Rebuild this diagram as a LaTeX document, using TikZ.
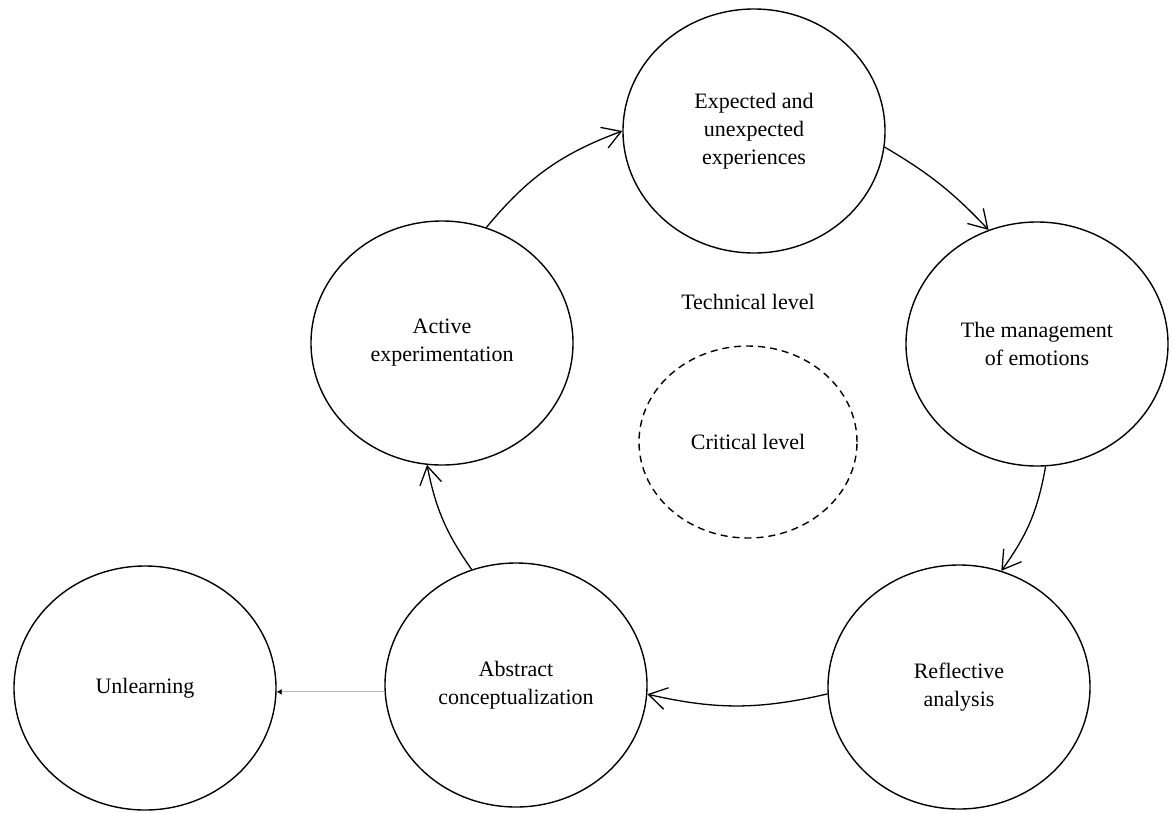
\documentclass[tikz,border=0pt]{standalone}
\usepackage{fontspec}
\setmainfont{Liberation Serif}
\usetikzlibrary{shapes.geometric,arrows.meta}
\begin{document}
\begin{tikzpicture}[x=1pt,y=1pt,
  bub/.style={draw,ellipse,line width=1.4pt,minimum width=262pt,minimum height=244pt,inner sep=0pt,align=center,font=\fontsize{22}{28}\selectfont},
  critbub/.style={draw,ellipse,dashed,dash pattern=on 7pt off 5pt,line width=1.4pt,minimum width=218pt,minimum height=192pt,inner sep=0pt,align=center,font=\fontsize{22}{28}\selectfont},
  flow/.style={line width=1.3pt,-{Straight Barb[length=18pt,width=22pt,line width=1.3pt]}},
  lbl/.style={font=\fontsize{22}{28}\selectfont}]
\useasboundingbox (0,0) rectangle (1172,-812);
\node[bub] (top)  at (754,-131) {Expected and\\unexpected\\experiences};
\node[bub] (mgmt) at (1037,-344) {The management\\of emotions};
\node[bub] (refl) at (959,-687) {Reflective\\analysis};
\node[bub] (abs)  at (516,-685) {Abstract\\conceptualization};
\node[bub] (unl)  at (145,-688) {Unlearning};
\node[bub] (act)  at (442,-343) {Active\\experimentation};
\node[critbub] (crit) at (748,-442) {Critical level};
\node[lbl] (tech) at (748,-302) {Technical level};
\draw[flow] (act.69) to[bend left=15] (top.180);
\draw[flow] (top.353) to[bend left=8] (mgmt.113);
\draw[flow] (mgmt.274) to[bend left=13] (refl.70);
\draw[flow] (refl.183) to[bend left=13] (abs.356);
\draw[flow] (abs.111) to[bend left=12] (act.263);
\draw[gray!55,line width=0.9pt,-{Latex[length=5pt,width=6pt,black]}] (abs.183) -- (abs.183 -| unl.east);
\end{tikzpicture}
\end{document}
